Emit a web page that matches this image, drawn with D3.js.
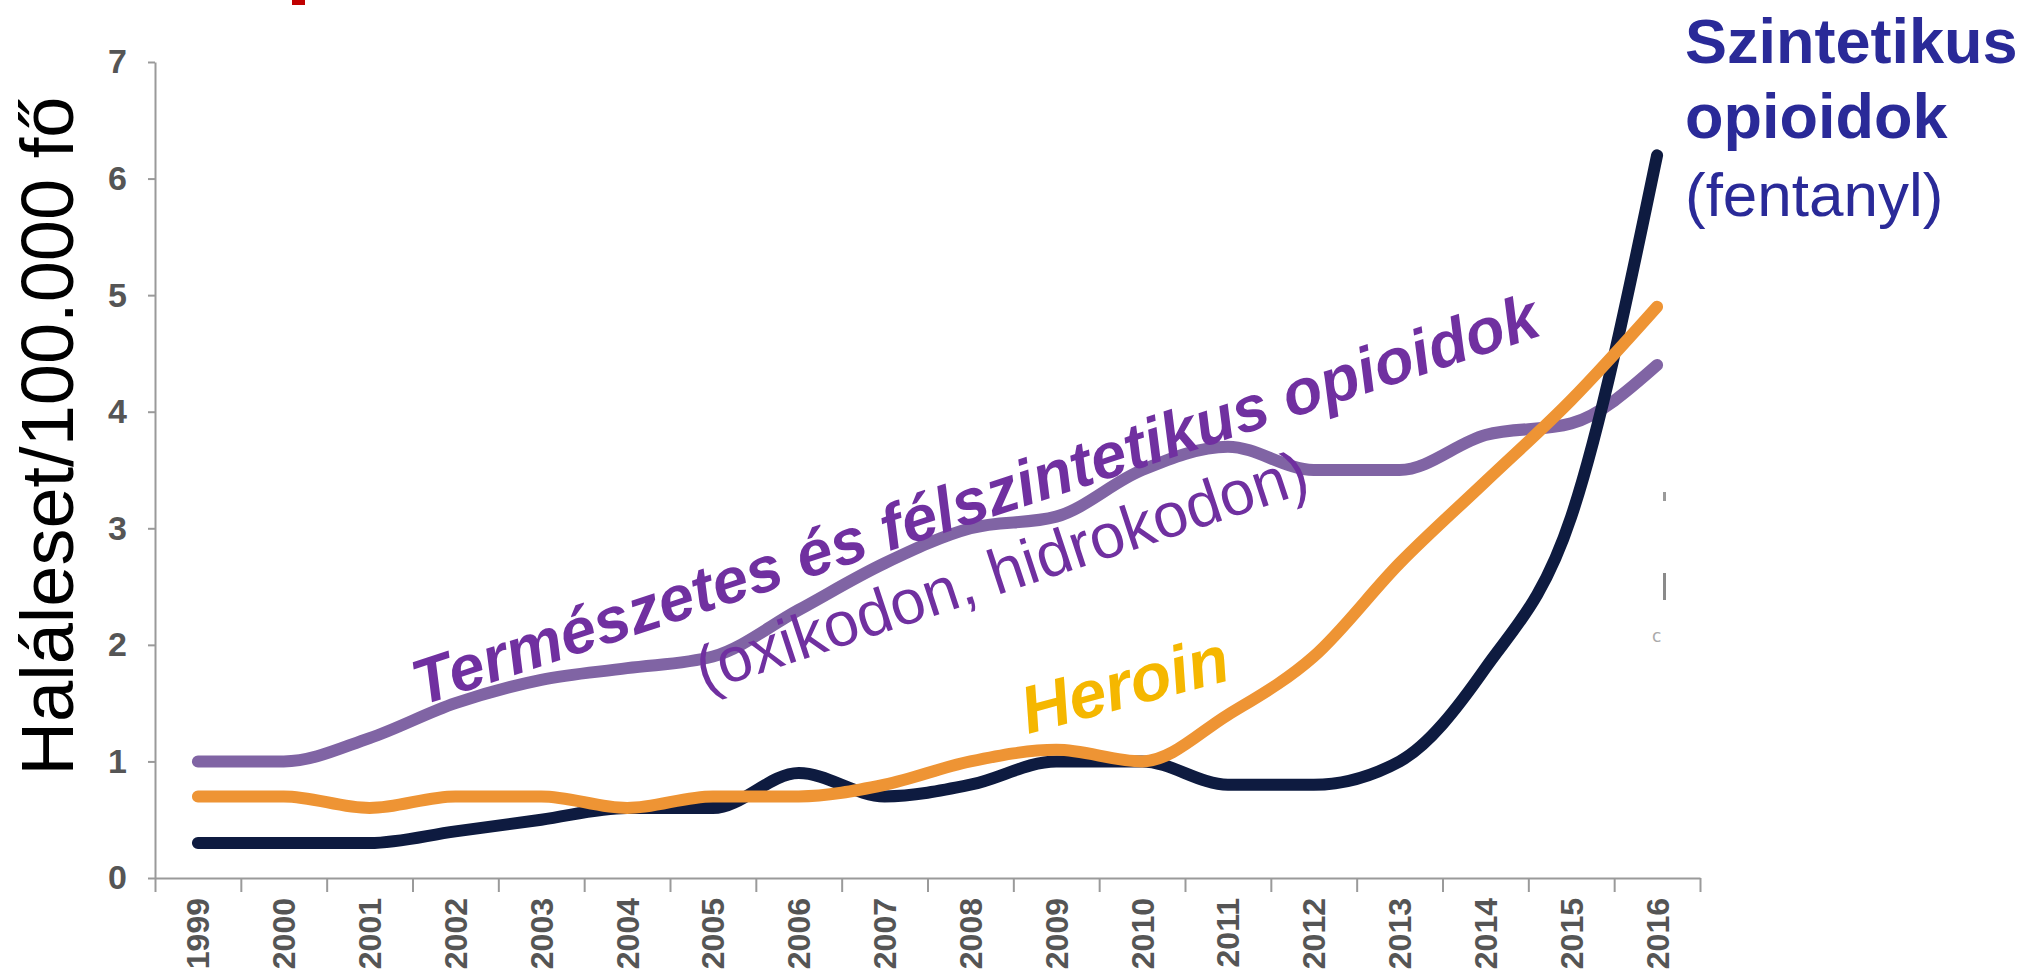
<!DOCTYPE html>
<html>
<head>
<meta charset="utf-8">
<script src="https://cdn.jsdelivr.net/npm/d3@7/dist/d3.min.js"></script>
<style>
  html, body { margin: 0; padding: 0; background: #ffffff; }
  svg { display: block; }
</style>
</head>
<body>
<svg id="chart" width="2025" height="977"></svg>
<script>
// ---- data ----
const years = [1999, 2000, 2001, 2002, 2003, 2004, 2005, 2006, 2007, 2008,
               2009, 2010, 2011, 2012, 2013, 2014, 2015, 2016];
const naturalValues   = [1.0, 1.0, 1.2, 1.5, 1.7, 1.8, 1.9, 2.3, 2.7, 3.0,
                         3.1, 3.5, 3.7, 3.5, 3.5, 3.8, 3.9, 4.4];
const heroinValues    = [0.7, 0.7, 0.6, 0.7, 0.7, 0.6, 0.7, 0.7, 0.8, 1.0,
                         1.1, 1.0, 1.4, 1.9, 2.7, 3.4, 4.1, 4.9];
const syntheticValues = [0.3, 0.3, 0.3, 0.4, 0.5, 0.6, 0.6, 0.9, 0.7, 0.8,
                         1.0, 1.0, 0.8, 0.8, 1.0, 1.8, 3.1, 6.2];
const yTicks = [0, 1, 2, 3, 4, 5, 6, 7];
const yTitle = "Haláleset/100.000 fő";
const naturalLabel = "Természetes és félszintetikus opioidok";
const naturalSub = "(oxikodon, hidrokodon)";
const heroinLabel = "Heroin";
const syntheticLines = [
  { text: "Szintetikus", bold: true },
  { text: "opioidok", bold: true },
  { text: "(fentanyl)", bold: false }
];

// ---- layout ----
const svg = d3.select("#chart");
const x = d3.scaleBand().domain(years).range([155, 1700]);
const y = d3.scaleLinear().domain([0, 7]).range([878, 62]);
const xb = d3.scaleLinear().domain([0, years.length]).range(x.range());

const axisColor = "#9a9a9a";
const tickTextColor = "#555555";
const tickFont = "'Liberation Sans', Arial, sans-serif";

// y axis
const gy = svg.append("g").attr("transform", "translate(155,0)")
  .call(d3.axisLeft(y).tickValues(yTicks).tickSize(7).tickSizeOuter(0).tickPadding(21).tickFormat(d3.format("d")));
gy.select(".domain").attr("stroke", axisColor).attr("stroke-width", 2);
gy.selectAll(".tick line").attr("stroke", axisColor).attr("stroke-width", 2);
gy.selectAll(".tick text")
  .attr("fill", tickTextColor)
  .style("font-family", tickFont)
  .style("font-weight", "bold")
  .style("font-size", "34px");

// x axis: ticks at category boundaries
const gxb = svg.append("g").attr("transform", "translate(0,878)")
  .call(d3.axisBottom(xb).tickValues(d3.range(0, years.length + 1)).tickSize(14).tickSizeOuter(0).tickFormat(""));
gxb.select(".domain").attr("stroke", axisColor).attr("stroke-width", 2);
gxb.selectAll(".tick line").attr("stroke", axisColor).attr("stroke-width", 2);

// x axis labels
const gx = svg.append("g").attr("transform", "translate(0,878)")
  .call(d3.axisBottom(x).tickSize(0).tickFormat(d3.format("d")));
gx.select(".domain").remove();
gx.selectAll(".tick text")
  .attr("transform", "rotate(-90)")
  .attr("x", -20)
  .attr("y", 0)
  .attr("dy", "0.36em")
  .style("text-anchor", "end")
  .attr("fill", tickTextColor)
  .style("font-family", tickFont)
  .style("font-weight", "bold")
  .style("font-size", "32px");

// y axis title
svg.append("text")
  .attr("transform", "translate(73,436) rotate(-90)")
  .attr("text-anchor", "middle")
  .style("font-family", "'Liberation Sans', Arial, sans-serif")
  .style("font-size", "74px")
  .attr("fill", "#000")
  .text(yTitle);

// ---- lines ----
const line = d3.line()
  .x((d, i) => x(years[i]) + x.bandwidth() / 2)
  .y(d => y(d))
  .curve(d3.curveMonotoneX);

const series = [
  { values: naturalValues, color: "#8064A4" },
  { values: syntheticValues, color: "#0E1B40" },
  { values: heroinValues, color: "#EE9434" }
];
svg.append("g").selectAll("path").data(series).join("path")
  .attr("d", d => line(d.values))
  .attr("fill", "none")
  .attr("stroke", d => d.color)
  .attr("stroke-width", 12)
  .attr("stroke-linecap", "round")
  .attr("stroke-linejoin", "round");

// ---- annotation labels ----
const purple = "#7030A0";
svg.append("text")
  .attr("transform", "translate(421,706) rotate(-18.3)")
  .style("font-family", "'Liberation Sans', Arial, sans-serif")
  .style("font-weight", "bold").style("font-style", "italic")
  .style("font-size", "64px")
  .attr("fill", purple)
  .text(naturalLabel);

svg.append("text")
  .attr("transform", "translate(704,692) rotate(-18.3)")
  .style("font-family", "'Liberation Sans', Arial, sans-serif")
  .style("font-size", "63px")
  .attr("fill", purple)
  .text(naturalSub);

svg.append("text")
  .attr("transform", "translate(1028,734) rotate(-15)")
  .style("font-family", "'Liberation Sans', Arial, sans-serif")
  .style("font-weight", "bold").style("font-style", "italic")
  .style("font-size", "67px")
  .attr("fill", "#F5B700")
  .text(heroinLabel);

const synBase = [63, 138, 216];
svg.append("g").selectAll("text").data(syntheticLines).join("text")
  .attr("x", 1685)
  .attr("y", (d, i) => synBase[i])
  .style("font-family", "'Liberation Sans', Arial, sans-serif")
  .style("font-weight", d => d.bold ? "bold" : "normal")
  .style("font-size", d => d.bold ? "63px" : "62px")
  .attr("fill", "#2A2A98")
  .text(d => d.text);

// remnants visible in the reference (cut-off title fragment and legend fragments)
svg.append("rect").attr("x", 292).attr("y", 0).attr("width", 13).attr("height", 5).attr("fill", "#C00000");
svg.append("rect").attr("x", 1663).attr("y", 492).attr("width", 3).attr("height", 9).attr("fill", "#9a9a9a");
svg.append("rect").attr("x", 1663).attr("y", 573).attr("width", 3).attr("height", 27).attr("fill", "#8a8a8a");
svg.append("text").attr("x", 1652).attr("y", 642)
  .style("font-family", "'DejaVu Sans', sans-serif").style("font-size", "17px")
  .attr("fill", "#aaaaaa").text("c");
</script>
</body>
</html>
